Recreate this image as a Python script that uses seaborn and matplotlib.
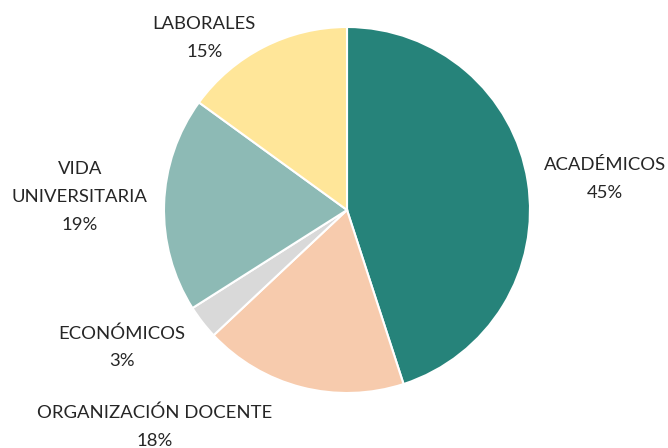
import matplotlib
matplotlib.use("Agg")
import matplotlib.pyplot as plt
import seaborn as sns

sns.set_theme(style="white")
plt.rcParams['font.family'] = ['Lato', 'DejaVu Sans']

# data
categories = ["ACADÉMICOS", "ORGANIZACIÓN DOCENTE", "ECONÓMICOS", "VIDA\nUNIVERSITARIA", "LABORALES"]
values = [45, 18, 3, 19, 15]
colors = ["#26837A", "#F7CBAD", "#D9D9D9", "#8DBAB5", "#FFE699"]

# label spots (pie radius = 1)
label_pos = [(1.41, 0.17), (-1.05, -1.185), (-1.23, -0.75), (-1.46, 0.07), (-0.78, 0.94)]

fig = plt.figure(figsize=(6.68, 4.48), dpi=100)
r_px = 183
cx, cy = 347, 448 - 210
ax = fig.add_axes([(cx - r_px) / 668, (cy - r_px) / 448, 2 * r_px / 668, 2 * r_px / 448])

wedges, texts = ax.pie(values, colors=colors, startangle=90, counterclock=False,
                       wedgeprops=dict(edgecolor="white", linewidth=1.5))
ax.set_xlim(-1, 1)
ax.set_ylim(-1, 1)
ax.set_aspect("equal")

for name, v, (x, y) in zip(categories, values, label_pos):
    ax.text(x, y, f"{name}\n{v}%", ha="center", va="center", fontsize=13.3,
            color="#262626", linespacing=1.9, clip_on=False)

ax.axis("off")
fig.savefig("out.png", dpi=100)
